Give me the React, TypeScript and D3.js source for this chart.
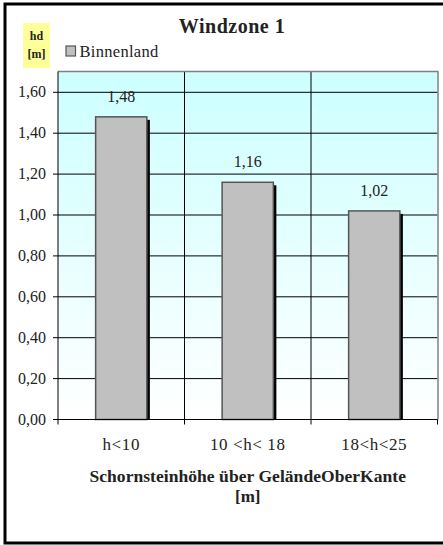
import React from "react";
import * as d3 from "d3";

const categories = ["h<10", "10 <h< 18", "18<h<25"];
const values = [1.48, 1.16, 1.02];
const yTicks = [0, 0.2, 0.4, 0.6, 0.8, 1.0, 1.2, 1.4, 1.6];
const seriesName = "Binnenland";
const title = "Windzone 1";
const xTitle1 = "Schornsteinhöhe über GeländeOberKante";
const xTitle2 = "[m]";
const yUnit1 = "hd";
const yUnit2 = "[m]";

const W = 443, H = 545;
const plot = { left: 58, right: 437.5, top: 71.5, bottom: 419.5 };
const FONT = "Liberation Serif, DejaVu Serif, serif";

export default function App() {
  const x = d3.scaleBand().domain(categories).range([plot.left, plot.right]).paddingInner(0).paddingOuter(0);
  const y = d3.scaleLinear().domain([0, 1.6]).range([plot.bottom, 92.3]);
  const bw = x.bandwidth() * 0.405;
  const fmt = (v: number) => d3.format(".2f")(v).replace(".", ",");
  return (
    <svg width={W} height={H} style={{ position: "absolute", left: 0, top: 0, background: "#fff", fontFamily: FONT }}>
      <defs>
        <linearGradient id="bg" x1="0" y1="0" x2="0" y2="1">
          <stop offset="0" stopColor="#CCFFFF" />
          <stop offset="1" stopColor="#FFFFFF" />
        </linearGradient>
      </defs>
      <rect x={0} y={0} width={W} height={H} fill="#fff" />
      <rect x={5} y={4} width={445} height={539} fill="none" stroke="#000" strokeWidth={3} />
      <rect x={plot.left} y={plot.top} width={plot.right - plot.left} height={plot.bottom - plot.top} fill="url(#bg)" />
      {yTicks.map((t) => (
        <line key={"g" + t} x1={plot.left} x2={plot.right} y1={y(t)} y2={y(t)} stroke="#000" strokeWidth={1} />
      ))}
      {categories.slice(1).map((c) => (
        <line key={"v" + c} x1={x(c)!} x2={x(c)!} y1={plot.top} y2={plot.bottom} stroke="#000" strokeWidth={1} />
      ))}
      <line x1={plot.left} x2={plot.right + 1} y1={plot.top} y2={plot.top} stroke="#808080" strokeWidth={1.5} />
      <line x1={plot.right + 0.5} x2={plot.right + 0.5} y1={plot.top} y2={plot.bottom} stroke="#808080" strokeWidth={1.5} />
      {categories.map((c, i) => {
        const cx = x(c)! + x.bandwidth() / 2;
        const x0 = cx - bw / 2;
        const yt = y(values[i]);
        return (
          <g key={c}>
            <rect x={x0 + 3} y={yt + 3} width={bw} height={plot.bottom - yt - 3} fill="#000" />
            <rect x={x0} y={yt} width={bw} height={plot.bottom - yt} fill="#C0C0C0" stroke="#555" strokeWidth={1.5} />
            <text x={cx} y={yt - 15} textAnchor="middle" fontSize={16} fill="#222">{fmt(values[i])}</text>
          </g>
        );
      })}
      <line x1={plot.left} x2={plot.left} y1={plot.top} y2={plot.bottom + 5} stroke="#000" strokeWidth={1} />
      <line x1={plot.left} x2={plot.right} y1={plot.bottom} y2={plot.bottom} stroke="#000" strokeWidth={1} />
      {yTicks.map((t) => (
        <g key={"t" + t}>
          <line x1={plot.left - 5} x2={plot.left} y1={y(t)} y2={y(t)} stroke="#000" />
          <text x={plot.left - 12} y={y(t) + 5} textAnchor="end" fontSize={16} fill="#222">{fmt(t)}</text>
        </g>
      ))}
      {categories.map((c) => (
        <line key={"bt" + c} x1={x(c)! + x.bandwidth()} x2={x(c)! + x.bandwidth()} y1={plot.bottom} y2={plot.bottom + 5} stroke="#000" />
      ))}
      {categories.map((c) => (
        <text key={"cl" + c} x={x(c)! + x.bandwidth() / 2} y={450} textAnchor="middle" fontSize={17} letterSpacing={0.6} fill="#222">{c}</text>
      ))}
      <text x={(plot.left + plot.right) / 2} y={482} textAnchor="middle" fontSize={17.5} fontWeight="bold" letterSpacing={0.05} fill="#222">{xTitle1}</text>
      <text x={(plot.left + plot.right) / 2} y={502} textAnchor="middle" fontSize={17} fontWeight="bold" fill="#222">{xTitle2}</text>
      <text x={232} y={33} textAnchor="middle" fontSize={20} fontWeight="bold" letterSpacing={0.5} fill="#222">{title}</text>
      <rect x={66} y={46} width={9.5} height={10} fill="#C0C0C0" stroke="#555" strokeWidth={1.2} />
      <text x={79.5} y={57} fontSize={16.5} letterSpacing={0.3} fill="#222">{seriesName}</text>
      <rect x={23} y={23} width={27} height={45} fill="#FFFF99" />
      <text x={36.5} y={40} textAnchor="middle" fontSize={12} fontWeight="bold" fill="#222">{yUnit1}</text>
      <text x={36.5} y={58} textAnchor="middle" fontSize={12} fontWeight="bold" fill="#222">{yUnit2}</text>
    </svg>
  );
}
